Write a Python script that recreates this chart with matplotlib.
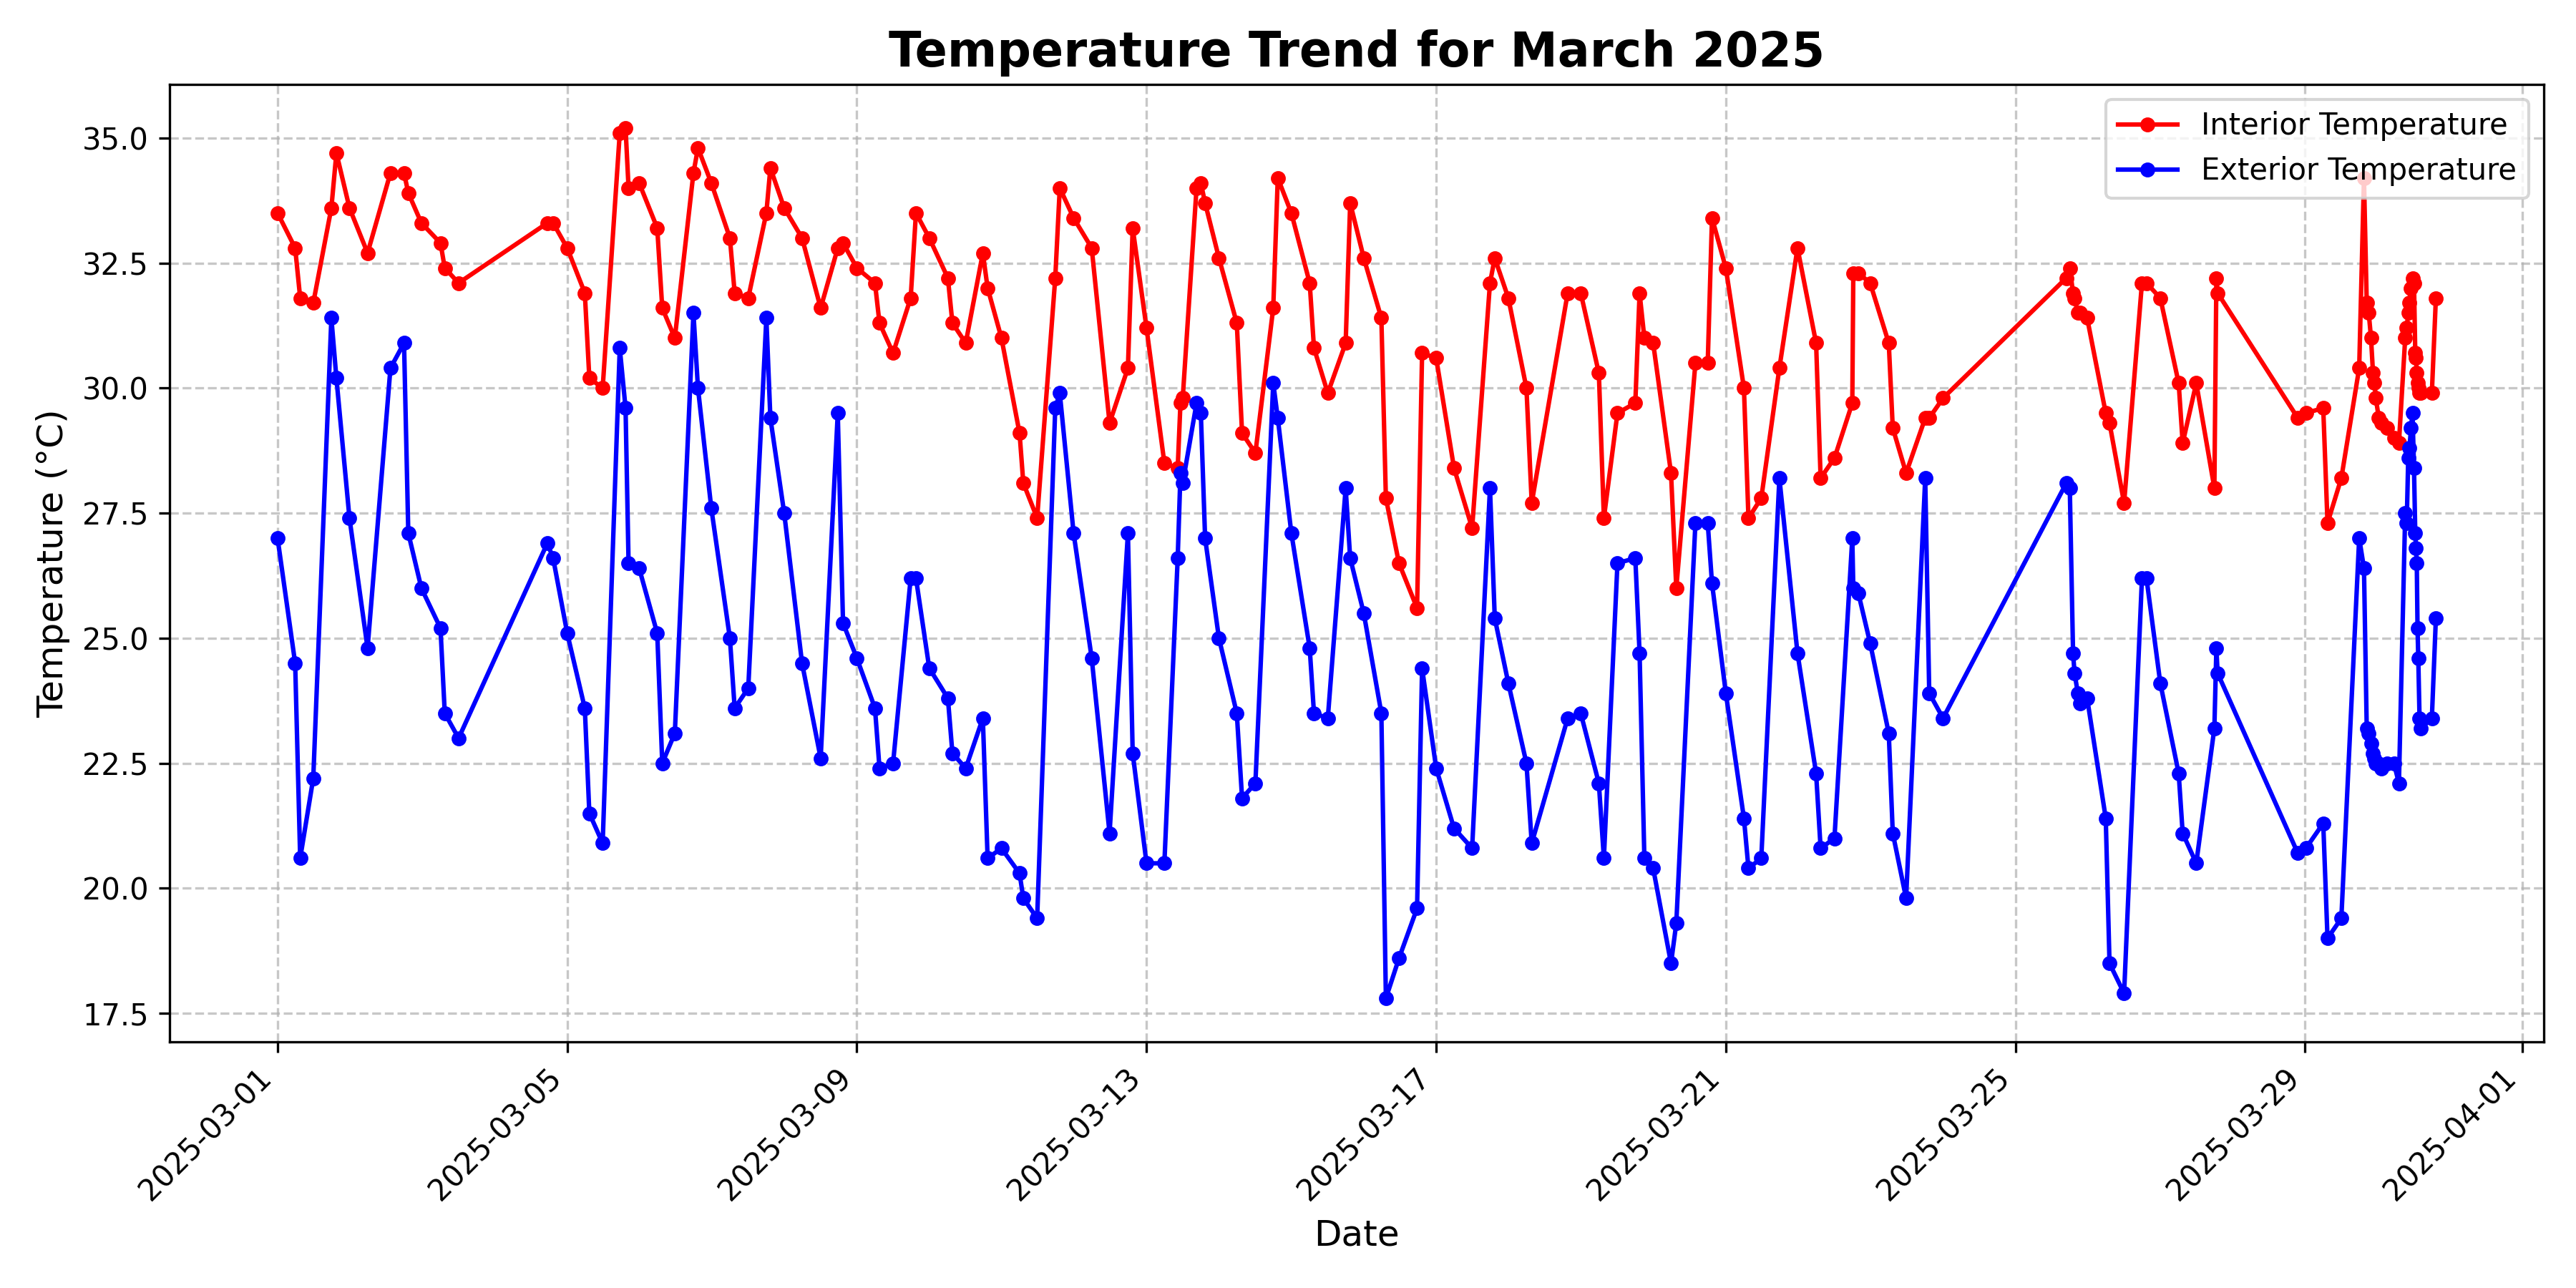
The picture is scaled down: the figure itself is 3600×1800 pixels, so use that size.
import pandas as pd
import matplotlib
matplotlib.use("Agg")
import matplotlib.pyplot as plt
import matplotlib.dates as mdates

# timestamps shared by both sensors
timestamps = [
    "03-01 00:00", "03-01 05:50", "03-01 07:30", "03-01 11:50", "03-01 17:50", "03-01 19:30",
    "03-01 23:50", "03-02 05:50", "03-02 13:25", "03-02 17:55", "03-02 19:20", "03-02 23:40",
    "03-03 06:00", "03-03 07:25", "03-03 12:00", "03-04 17:25", "03-04 19:20",
    "03-05 00:00", "03-05 05:50", "03-05 07:20", "03-05 11:45", "03-05 17:25", "03-05 19:20",
    "03-05 20:20", "03-05 23:50", "03-06 05:50", "03-06 07:30", "03-06 11:40", "03-06 17:50",
    "03-06 19:20", "03-06 23:45", "03-07 05:55", "03-07 07:30", "03-07 12:00", "03-07 18:00",
    "03-07 19:20", "03-07 23:55", "03-08 05:50", "03-08 12:00", "03-08 17:40", "03-08 19:25",
    "03-09 00:00", "03-09 06:00", "03-09 07:30", "03-09 12:00", "03-09 17:50", "03-09 19:35",
    "03-10 00:00", "03-10 06:10", "03-10 07:40", "03-10 12:05", "03-10 17:45", "03-10 19:20",
    "03-10 23:55", "03-11 05:55", "03-11 07:10", "03-11 11:45", "03-11 17:45", "03-11 19:15",
    "03-11 23:50", "03-12 05:50", "03-12 11:45", "03-12 17:50", "03-12 19:25",
    "03-13 00:00", "03-13 05:55", "03-13 10:20", "03-13 11:15", "03-13 12:00", "03-13 16:35",
    "03-13 18:00", "03-13 19:25", "03-14 00:00", "03-14 05:55", "03-14 07:40", "03-14 12:05",
    "03-14 18:00", "03-14 19:30", "03-15 00:00", "03-15 06:05", "03-15 07:30", "03-15 12:05",
    "03-15 18:00", "03-15 19:30", "03-16 00:00", "03-16 05:50", "03-16 07:20", "03-16 11:40",
    "03-16 17:40", "03-16 19:20", "03-17 00:00", "03-17 05:55", "03-17 11:55", "03-17 17:50",
    "03-17 19:25", "03-17 23:55", "03-18 05:55", "03-18 07:40", "03-18 19:35", "03-18 23:55",
    "03-19 05:55", "03-19 07:35", "03-19 12:05", "03-19 18:00", "03-19 19:25", "03-19 21:00",
    "03-19 23:55", "03-20 05:50", "03-20 07:35", "03-20 13:55", "03-20 18:00", "03-20 19:25",
    "03-21 00:00", "03-21 06:00", "03-21 07:30", "03-21 11:45", "03-21 17:45", "03-21 23:45",
    "03-22 05:55", "03-22 07:25", "03-22 12:00", "03-22 17:55", "03-22 18:15", "03-22 19:55",
    "03-22 23:50", "03-23 06:00", "03-23 07:20", "03-23 11:45", "03-23 18:05", "03-23 19:25",
    "03-24 00:00", "03-25 16:50", "03-25 18:00", "03-25 19:05", "03-25 19:35", "03-25 20:40",
    "03-25 21:20", "03-25 23:45", "03-26 05:55", "03-26 07:10", "03-26 12:00", "03-26 17:55",
    "03-26 19:25", "03-27 00:00", "03-27 06:05", "03-27 07:25", "03-27 11:55", "03-27 17:55",
    "03-27 18:35", "03-27 19:00", "03-28 21:35", "03-29 00:15", "03-29 06:00", "03-29 07:25",
    "03-29 12:00", "03-29 17:55", "03-29 19:30", "03-29 20:25", "03-29 21:05", "03-29 21:50",
    "03-29 22:30", "03-29 23:00", "03-29 23:25", "03-30 00:25", "03-30 01:10", "03-30 03:15",
    "03-30 05:25", "03-30 07:05", "03-30 09:10", "03-30 09:40", "03-30 10:10", "03-30 10:35",
    "03-30 11:05", "03-30 11:35", "03-30 12:05", "03-30 12:30", "03-30 12:45", "03-30 13:00",
    "03-30 13:15", "03-30 13:30", "03-30 13:55", "03-30 14:25", "03-30 18:00", "03-30 19:20",
]

interior_temp = [
    33.5, 32.8, 31.8, 31.7, 33.6, 34.7, 33.6, 32.7, 34.3, 34.3, 33.9, 33.3,
    32.9, 32.4, 32.1, 33.3, 33.3,
    32.8, 31.9, 30.2, 30.0, 35.1, 35.2, 34.0, 34.1, 33.2, 31.6, 31.0, 34.3,
    34.8, 34.1, 33.0, 31.9, 31.8, 33.5, 34.4, 33.6, 33.0, 31.6, 32.8, 32.9,
    32.4, 32.1, 31.3, 30.7, 31.8, 33.5, 33.0, 32.2, 31.3, 30.9, 32.7, 32.0,
    31.0, 29.1, 28.1, 27.4, 32.2, 34.0, 33.4, 32.8, 29.3, 30.4, 33.2,
    31.2, 28.5, 28.4, 29.7, 29.8, 34.0, 34.1, 33.7, 32.6, 31.3, 29.1, 28.7,
    31.6, 34.2, 33.5, 32.1, 30.8, 29.9, 30.9, 33.7, 32.6, 31.4, 27.8, 26.5,
    25.6, 30.7, 30.6, 28.4, 27.2, 32.1, 32.6, 31.8, 30.0, 27.7, 31.9, 31.9,
    30.3, 27.4, 29.5, 29.7, 31.9, 31.0, 30.9, 28.3, 26.0, 30.5, 30.5, 33.4,
    32.4, 30.0, 27.4, 27.8, 30.4, 32.8, 30.9, 28.2, 28.6, 29.7, 32.3, 32.3,
    32.1, 30.9, 29.2, 28.3, 29.4, 29.4, 29.8, 32.2, 32.4, 31.9, 31.8, 31.5,
    31.5, 31.4, 29.5, 29.3, 27.7, 32.1, 32.1, 31.8, 30.1, 28.9, 30.1, 28.0,
    32.2, 31.9, 29.4, 29.5, 29.6, 27.3, 28.2, 30.4, 34.2, 31.7, 31.5, 31.0,
    30.3, 30.1, 29.8, 29.4, 29.3, 29.2, 29.0, 28.9, 31.0, 31.2, 31.5, 31.7,
    32.0, 32.2, 32.1, 30.7, 30.6, 30.3, 30.1, 30.0, 29.9, 29.9, 29.9, 31.8,
]

exterior_temp = [
    27.0, 24.5, 20.6, 22.2, 31.4, 30.2, 27.4, 24.8, 30.4, 30.9, 27.1, 26.0,
    25.2, 23.5, 23.0, 26.9, 26.6,
    25.1, 23.6, 21.5, 20.9, 30.8, 29.6, 26.5, 26.4, 25.1, 22.5, 23.1, 31.5,
    30.0, 27.6, 25.0, 23.6, 24.0, 31.4, 29.4, 27.5, 24.5, 22.6, 29.5, 25.3,
    24.6, 23.6, 22.4, 22.5, 26.2, 26.2, 24.4, 23.8, 22.7, 22.4, 23.4, 20.6,
    20.8, 20.3, 19.8, 19.4, 29.6, 29.9, 27.1, 24.6, 21.1, 27.1, 22.7,
    20.5, 20.5, 26.6, 28.3, 28.1, 29.7, 29.5, 27.0, 25.0, 23.5, 21.8, 22.1,
    30.1, 29.4, 27.1, 24.8, 23.5, 23.4, 28.0, 26.6, 25.5, 23.5, 17.8, 18.6,
    19.6, 24.4, 22.4, 21.2, 20.8, 28.0, 25.4, 24.1, 22.5, 20.9, 23.4, 23.5,
    22.1, 20.6, 26.5, 26.6, 24.7, 20.6, 20.4, 18.5, 19.3, 27.3, 27.3, 26.1,
    23.9, 21.4, 20.4, 20.6, 28.2, 24.7, 22.3, 20.8, 21.0, 27.0, 26.0, 25.9,
    24.9, 23.1, 21.1, 19.8, 28.2, 23.9, 23.4, 28.1, 28.0, 24.7, 24.3, 23.9,
    23.7, 23.8, 21.4, 18.5, 17.9, 26.2, 26.2, 24.1, 22.3, 21.1, 20.5, 23.2,
    24.8, 24.3, 20.7, 20.8, 21.3, 19.0, 19.4, 27.0, 26.4, 23.2, 23.1, 22.9,
    22.7, 22.6, 22.5, 22.5, 22.4, 22.5, 22.5, 22.1, 27.5, 27.3, 28.6, 28.8,
    29.2, 29.5, 28.4, 27.1, 26.8, 26.5, 25.2, 24.6, 23.4, 23.2, 23.4, 25.4,
]

dates = pd.to_datetime(["2025-" + t for t in timestamps])

fig, ax = plt.subplots(figsize=(12, 6))
ax.plot(dates, interior_temp, "-o", color="red", markersize=4, linewidth=1.5, label="Interior Temperature")
ax.plot(dates, exterior_temp, "-o", color="blue", markersize=4, linewidth=1.5, label="Exterior Temperature")

ax.set_title("Temperature Trend for March 2025", fontsize=16, fontweight="bold")
ax.set_xlabel("Date", fontsize=12)
ax.set_ylabel("Temperature (°C)", fontsize=12)
ax.xaxis.set_major_locator(mdates.DayLocator(bymonthday=[1, 5, 9, 13, 17, 21, 25, 29]))
ax.xaxis.set_major_formatter(mdates.DateFormatter("%Y-%m-%d"))
plt.xticks(rotation=45, ha="right")
ax.grid(True, linestyle="--", alpha=0.7)
ax.legend(loc="upper right")

plt.tight_layout()
plt.savefig("out.png", dpi=300)
